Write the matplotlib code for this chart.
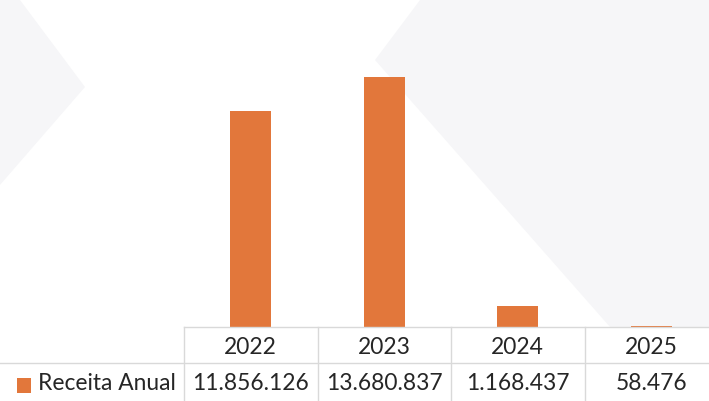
import matplotlib.pyplot as plt
from matplotlib.patches import Polygon, Rectangle

# dados do gráfico (receita anual por ano)
ANOS = ["2022", "2023", "2024", "2025"]
RECEITA = [11856126, 13680837, 1168437, 58476]
SERIE = "Receita Anual"

LARANJA = "#E2773B"
CINZA = "#D9D9D9"
TEXTO = "#262626"
FUNDO = "#F6F6F8"

plt.rcParams["font.family"] = ["Lato", "DejaVu Sans"]

W, H = 709, 401


def fmt(v):
    return f"{v:,}".replace(",", ".")


def px(pts):
    # pixels (origem no topo) -> fração da figura
    return [(x / W, 1 - y / H) for x, y in pts]


def main():
    fig = plt.figure(figsize=(W / 100, H / 100), dpi=100)

    # marca d'água clara do slide
    for pts in ([(420, 0), (709, 0), (709, 327), (610, 327), (375, 60)],
                [(0, 0), (20, 0), (85, 87), (0, 185)]):
        fig.patches.append(Polygon(px(pts), closed=True, facecolor=FUNDO,
                                   edgecolor="none", transform=fig.transFigure, zorder=-5))

    # área do gráfico alinhada com as colunas da tabela
    ax = fig.add_axes([184 / W, 74 / H, 534 / W, 292 / H])
    ax.set_zorder(2)
    ax.patch.set_alpha(0)
    xs = list(range(len(ANOS)))
    ax.bar(xs, RECEITA, width=0.31, color=LARANJA)
    ax.set_xlim(-0.5, len(ANOS) - 0.5)
    ax.set_ylim(0, 16e6)
    ax.axis("off")

    # tabela de dados abaixo do eixo
    tr = ax.get_xaxis_transform()
    x_ini = -0.5 - 184 / 133.5
    y_lin = -36 / 292
    y_fim = -0.3
    kw = dict(color=CINZA, lw=1, transform=tr, clip_on=False)
    ax.plot([-0.5, len(ANOS) - 0.5], [0, 0], **kw)
    ax.plot([x_ini, len(ANOS) - 0.5], [y_lin, y_lin], **kw)
    for b in range(len(ANOS) + 1):
        ax.plot([b - 0.5, b - 0.5], [0, y_fim], **kw)

    fs = 16.4
    for i, (ano, v) in enumerate(zip(ANOS, RECEITA)):
        ax.text(i, -21 / 292, ano, transform=tr, ha="center", va="center",
                fontsize=fs, color=TEXTO)
        ax.text(i, -56 / 292, fmt(v), transform=tr, ha="center", va="center",
                fontsize=fs, color=TEXTO)

    ax.add_patch(Rectangle((-0.5 - 167 / 133.5, -66 / 292), 14 / 133.5, 15 / 292,
                           facecolor=LARANJA, transform=tr, clip_on=False))
    ax.text(-0.5 - 146 / 133.5, -56 / 292, SERIE, transform=tr, ha="left",
            va="center", fontsize=fs, color=TEXTO)

    fig.savefig("out.png", dpi=100)


if __name__ == "__main__":
    main()
